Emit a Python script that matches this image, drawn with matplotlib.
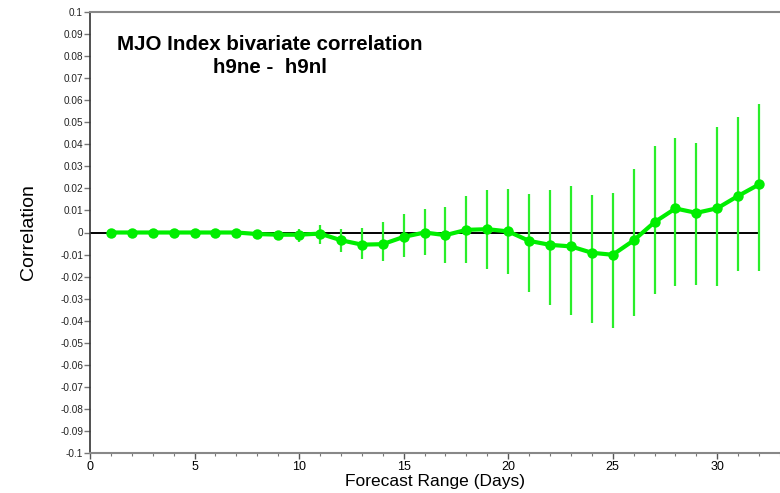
import numpy as np
import matplotlib
matplotlib.use("Agg")
import matplotlib.pyplot as plt
from matplotlib.ticker import MultipleLocator, FixedLocator

plt.rcParams['font.family'] = ['Liberation Sans', 'DejaVu Sans']

# Forecast lead (days) and bivariate correlation difference with its confidence bounds
days = list(range(1, 33))
corr = [0.0, 0.0, 0.0, 0.0, 0.0, 0.0, 0.0, -0.0007, -0.001, -0.001,
        -0.0005, -0.0035, -0.0055, -0.0053, -0.002, 0.0, -0.0012, 0.0012,
        0.0015, 0.0005, -0.0038, -0.0056, -0.0063, -0.0092, -0.0101,
        -0.0036, 0.0047, 0.0109, 0.0089, 0.011, 0.0166, 0.0218]
upper = [0.0, 0.0, 0.0, 0.0, 0.0, 0.0, 0.0002, 0.0003, 0.0008, 0.0018,
         0.0036, 0.0017, 0.0021, 0.0047, 0.0085, 0.0107, 0.0117, 0.0166,
         0.0194, 0.0198, 0.0176, 0.0192, 0.0212, 0.0169, 0.0181, 0.0289,
         0.0393, 0.0429, 0.0404, 0.0479, 0.0526, 0.0585]
lower = [0.0, 0.0, 0.0, 0.0, 0.0, 0.0, -0.0002, -0.0018, -0.003, -0.0044,
         -0.0051, -0.0089, -0.0121, -0.013, -0.0113, -0.0104, -0.0139,
         -0.0139, -0.0166, -0.0186, -0.0271, -0.0328, -0.0375, -0.041,
         -0.0431, -0.038, -0.0278, -0.0242, -0.0239, -0.0244, -0.0176,
         -0.0176]
ytick_values = [0.1, 0.09, 0.08, 0.07, 0.06, 0.05, 0.04, 0.03, 0.02, 0.01, 0.0,
                -0.01, -0.02, -0.03, -0.04, -0.05, -0.06, -0.07, -0.08, -0.09, -0.1]
ytick_labels = ['0.1', '0.09', '0.08', '0.07', '0.06', '0.05', '0.04', '0.03',
                '0.02', '0.01', '0', '-0.01', '-0.02', '-0.03', '-0.04', '-0.05',
                '-0.06', '-0.07', '-0.08', '-0.09', '-0.1']

title_text = "MJO Index bivariate correlation\nh9ne -  h9nl"
xlabel_text = "Forecast Range (Days)"
ylabel_text = "Correlation"

W, H = 780, 493
fig = plt.figure(figsize=(W / 100, H / 100), dpi=100)
ax = fig.add_axes([90 / W, 1 - 453 / H, 690 / W, 441 / H])

corr_a = np.array(corr)
yerr = [corr_a - np.array(lower), np.array(upper) - corr_a]

# zero reference line
ax.plot([0, days[-1]], [0, 0], color='black', lw=1.4, zorder=1)

ax.errorbar(days, corr, yerr=yerr, fmt='none', ecolor='#2aee2a',
            elinewidth=1.6, capsize=0, zorder=2)
ax.plot(days, corr, color='#00ee00', lw=3, marker='o', markersize=7.5,
        markeredgewidth=0, zorder=3)

ax.set_xlim(0, 33)
ax.set_ylim(-0.1, 0.1)

ax.xaxis.set_major_locator(MultipleLocator(5))
ax.xaxis.set_minor_locator(MultipleLocator(1))
ax.yaxis.set_major_locator(FixedLocator(ytick_values))
ax.set_yticklabels(ytick_labels)

ax.tick_params(axis='x', which='major', direction='out', length=4,
               width=1, colors='#555555', labelsize=9, labelcolor='black', pad=2)
ax.tick_params(axis='x', which='minor', direction='out', length=2.5,
               width=0.8, colors='#777777')
ax.tick_params(axis='y', which='major', direction='out', length=4,
               width=1, colors='#777777', labelsize=7.2, labelcolor='#222222', pad=1)

for side in ('top', 'bottom'):
    ax.spines[side].set_color('#888888')
    ax.spines[side].set_linewidth(1.5)
ax.spines['left'].set_color('#333333')
ax.spines['left'].set_linewidth(1.2)
ax.spines['right'].set_visible(False)

ax.set_xlabel(xlabel_text, fontsize=12.5, labelpad=0.5)
ax.set_ylabel(ylabel_text, fontsize=14)
ax.yaxis.set_label_coords(-(90 - 37) / 690, 0.5)

fig.text(270 / W, 1 - 56 / H, title_text, ha='center', va='center',
         fontsize=14.8, fontweight='bold', linespacing=1.3)

fig.savefig('out.png', dpi=100)
